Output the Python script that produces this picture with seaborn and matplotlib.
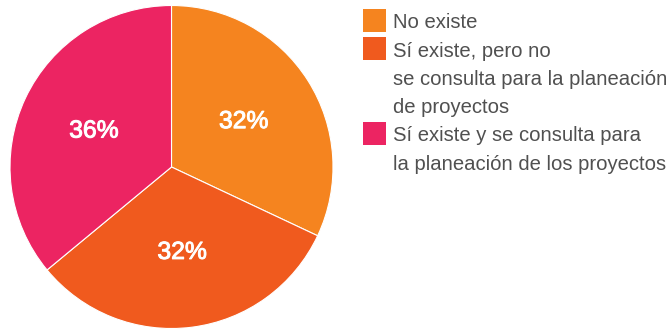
import matplotlib
matplotlib.use("Agg")
import matplotlib.pyplot as plt
import matplotlib.patheffects as pe
from matplotlib.patches import Rectangle
import seaborn as sns

categories = [
    "No existe",
    "Sí existe, pero no\nse consulta para la planeación\nde proyectos",
    "Sí existe y se consulta para\nla planeación de los proyectos",
]
values = [32, 32, 36]
colors = ["#F5841F", "#F05A1E", "#EC2462"]

sns.set_theme(style="white")
plt.rcParams["font.family"] = ["Liberation Sans", "DejaVu Sans"]
palette = sns.color_palette(colors)

W, H = 672, 330
fig = plt.figure(figsize=(W / 100, H / 100), dpi=100)
fig.patch.set_facecolor("white")

# pie axes: centre (171.5, 167) px from top-left, radius ~161.5 px
cx, cy, r = 171.5, 167.0, 161.5
ax = fig.add_axes([(cx - r) / W, 1 - (cy + r) / H, 2 * r / W, 2 * r / H])
wedges, texts = ax.pie(
    values,
    colors=palette,
    startangle=90,
    counterclock=False,
    labels=[f"{v}%" for v in values],
    labeldistance=0.53,
    wedgeprops=dict(edgecolor="white", linewidth=0.8),
    textprops=dict(color="white", fontsize=17.8),
)
for t in texts:
    t.set_ha("center")
    t.set_va("center")
    # slightly heavier strokes for the percentage labels
    t.set_path_effects([pe.withStroke(linewidth=0.7, foreground="white")])
ax.set_xlim(-1, 1)
ax.set_ylim(-1, 1)
ax.set_aspect("equal")
ax.axis("off")

# legend drawn on the figure: swatch per entry, one text row per line
swatch_x, swatch_w = 363, 23
text_x = 393
line_h = 28.2
first_line_y = 21.0
row = 0
for color, label in zip(palette, categories):
    y0 = first_line_y + row * line_h
    fig.patches.append(Rectangle(
        (swatch_x / W, 1 - (y0 + swatch_w / 2 - 0.5) / H),
        swatch_w / W, swatch_w / H,
        transform=fig.transFigure, facecolor=color, edgecolor="none"))
    for line in label.split("\n"):
        y = first_line_y + row * line_h
        fig.text(text_x / W, 1 - y / H, line, ha="left", va="center_baseline",
                 fontsize=14.6, color="#505050")
        row += 1

fig.savefig("out.png", dpi=100, facecolor="white")
